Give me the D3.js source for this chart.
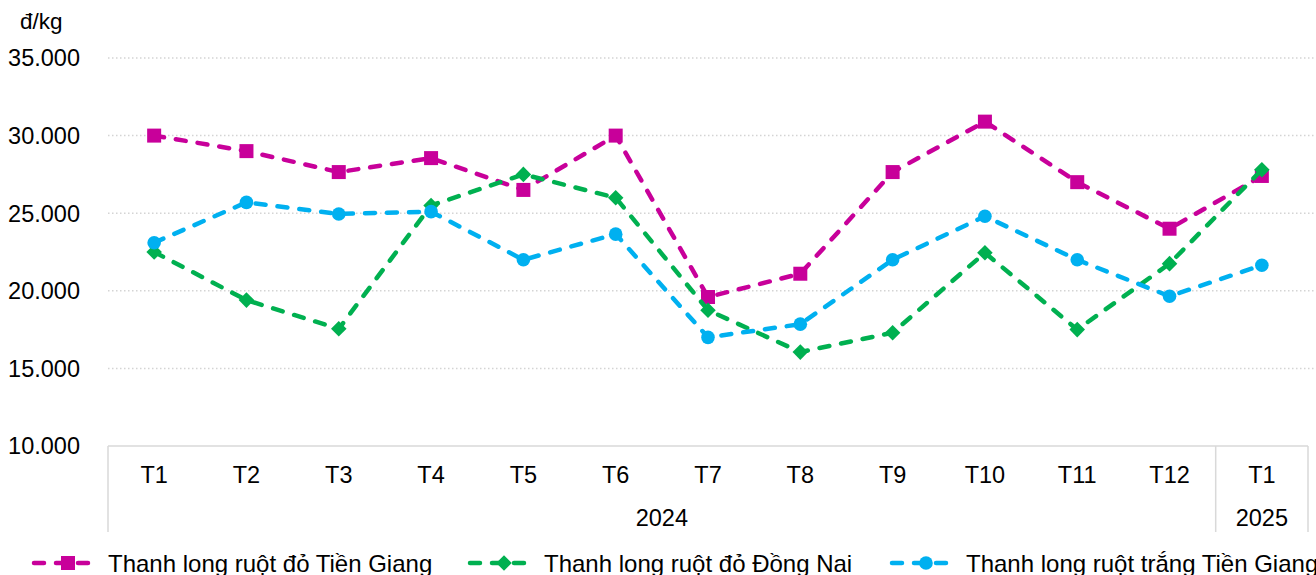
<!DOCTYPE html>
<html>
<head>
<meta charset="utf-8">
<script src="https://cdn.jsdelivr.net/npm/d3@7"></script>
<style>
  body { margin: 0; background: #fff; }
  text { font-family: "Liberation Sans", Arial, sans-serif; fill: #000; }
</style>
</head>
<body>
<div id="chart"></div>
<script>
// data
var months = ['T1', 'T2', 'T3', 'T4', 'T5', 'T6', 'T7', 'T8', 'T9', 'T10', 'T11', 'T12', 'T1'];
var years = ['2024', '2024', '2024', '2024', '2024', '2024', '2024', '2024', '2024', '2024', '2024', '2024', '2025'];
var yTicks = [10000, 15000, 20000, 25000, 30000, 35000];

var doTienGiang = [30000, 29000, 27650, 28550, 26500, 30000, 19600, 21100, 27650, 30900, 27000, 24000, 27400];
var doDongNai = [22500, 19400, 17550, 25500, 27500, 26000, 18750, 16050, 17300, 22450, 17500, 21750, 27800];
var trangTienGiang = [23100, 25700, 24950, 25100, 22000, 23650, 17000, 17850, 22000, 24800, 22000, 19650, 21650];

var seriesNames = ['Thanh long ruột đỏ Tiền Giang', 'Thanh long ruột đỏ Đồng Nai', 'Thanh long ruột trắng Tiền Giang'];
var seriesColors = ['#C8009A', '#00B050', '#00B0F0'];

var width = 1316;
var height = 575;
var plotLeft = 108, plotRight = 1308, plotTop = 58, plotBottom = 446;

var svg = d3.select('#chart')
  .append('svg')
  .attr('width', width)
  .attr('height', height)

var x = d3.scaleBand()
  .domain(d3.range(months.length))
  .range([plotLeft, plotRight])

var y = d3.scaleLinear()
  .domain([10000, 35000])
  .range([plotBottom, plotTop])

var fmt = function(v) { return d3.format(',')(v).replace(/,/g, '.'); }
var cx = function(i) { return x(i) + x.bandwidth() / 2; }

// marker shapes: square, diamond (rotated square), circle
function marker(sel, s) {
  if (s === 0) {
    sel.append('rect').attr('x', -7).attr('y', -7).attr('width', 14).attr('height', 14)
  } else if (s === 1) {
    sel.append('rect').attr('x', -5.5).attr('y', -5.5).attr('width', 11).attr('height', 11)
      .attr('transform', 'rotate(45)')
  } else {
    sel.append('circle').attr('r', 6.8)
  }
  sel.selectAll('*').attr('fill', seriesColors[s])
}

// gridlines
svg.append('g')
  .selectAll('line')
  .data(yTicks.slice(1))
  .enter()
  .append('line')
  .attr('x1', plotLeft)
  .attr('x2', 1316)
  .attr('y1', function(d) { return y(d); })
  .attr('y2', function(d) { return y(d); })
  .attr('stroke', '#d4d4d4')
  .attr('stroke-width', 1.5)
  .attr('stroke-dasharray', '1.5,2.5')

// y labels
svg.append('g')
  .selectAll('text')
  .data(yTicks)
  .enter()
  .append('text')
  .attr('x', 80)
  .attr('y', function(d) { return y(d); })
  .attr('dy', '0.36em')
  .attr('text-anchor', 'end')
  .style('font-size', '23.5px')
  .text(fmt)

svg.append('text')
  .attr('x', 20)
  .attr('y', 29)
  .style('font-size', '22.5px')
  .text('đ/kg')

// category axis
var axis = svg.append('g')
axis.append('line')
  .attr('x1', plotLeft).attr('x2', plotRight)
  .attr('y1', plotBottom).attr('y2', plotBottom)
  .attr('stroke', '#d9d9d9').attr('stroke-width', 1.5)

var groups = [];
years.forEach(function(yr, i) {
  var last = groups[groups.length - 1];
  if (last && last.year === yr) last.end = i;
  else groups.push({ year: yr, start: i, end: i });
});

var seps = [plotLeft].concat(groups.map(function(g) { return x(g.end) + x.bandwidth(); }));
axis.selectAll('.sep')
  .data(seps)
  .enter()
  .append('line')
  .attr('x1', function(d) { return d; })
  .attr('x2', function(d) { return d; })
  .attr('y1', plotBottom)
  .attr('y2', 532)
  .attr('stroke', '#d9d9d9').attr('stroke-width', 1.5)

axis.selectAll('.month')
  .data(months)
  .enter()
  .append('text')
  .attr('x', function(d, i) { return cx(i); })
  .attr('y', 483)
  .attr('text-anchor', 'middle')
  .style('font-size', '23.5px')
  .text(function(d) { return d; })

axis.selectAll('.year')
  .data(groups)
  .enter()
  .append('text')
  .attr('x', function(g) { return (x(g.start) + x(g.end) + x.bandwidth()) / 2; })
  .attr('y', 526)
  .attr('text-anchor', 'middle')
  .style('font-size', '23.5px')
  .text(function(g) { return g.year; })

// lines
var line = d3.line()
  .x(function(d, i) { return cx(i); })
  .y(function(d) { return y(d); })

var allSeries = [doTienGiang, doDongNai, trangTienGiang];

allSeries.forEach(function(vals, s) {
  var g = svg.append('g');
  g.append('path')
    .datum(vals)
    .attr('d', line)
    .attr('fill', 'none')
    .attr('stroke', seriesColors[s])
    .attr('stroke-width', 4.5)
    .attr('stroke-linecap', 'round')
    .attr('stroke-dasharray', '10,12')

  g.selectAll('g.m')
    .data(vals)
    .enter()
    .append('g')
    .attr('class', 'm')
    .attr('transform', function(d, i) {
      return 'translate(' + cx(i) + ',' + y(d) + ')';
    })
    .each(function() { marker(d3.select(this), s); })
});

// legend
var legendX = [32, 468, 890];
var legend = svg.append('g')
  .selectAll('g')
  .data(seriesNames)
  .enter()
  .append('g')
  .attr('transform', function(d, i) { return 'translate(' + legendX[i] + ',563)'; })

legend.append('line')
  .attr('x1', 2).attr('x2', 64)
  .attr('y1', 0).attr('y2', 0)
  .attr('stroke', function(d, i) { return seriesColors[i]; })
  .attr('stroke-width', 4.5)
  .attr('stroke-linecap', 'round')
  .attr('stroke-dasharray', '10,12')

legend.each(function(d, i) {
  marker(d3.select(this).append('g').attr('transform', 'translate(36,0)'), i);
});

legend.append('text')
  .attr('x', 76)
  .attr('y', 9)
  .style('font-size', '24px')
  .text(function(d) { return d; })
</script>
</body>
</html>
